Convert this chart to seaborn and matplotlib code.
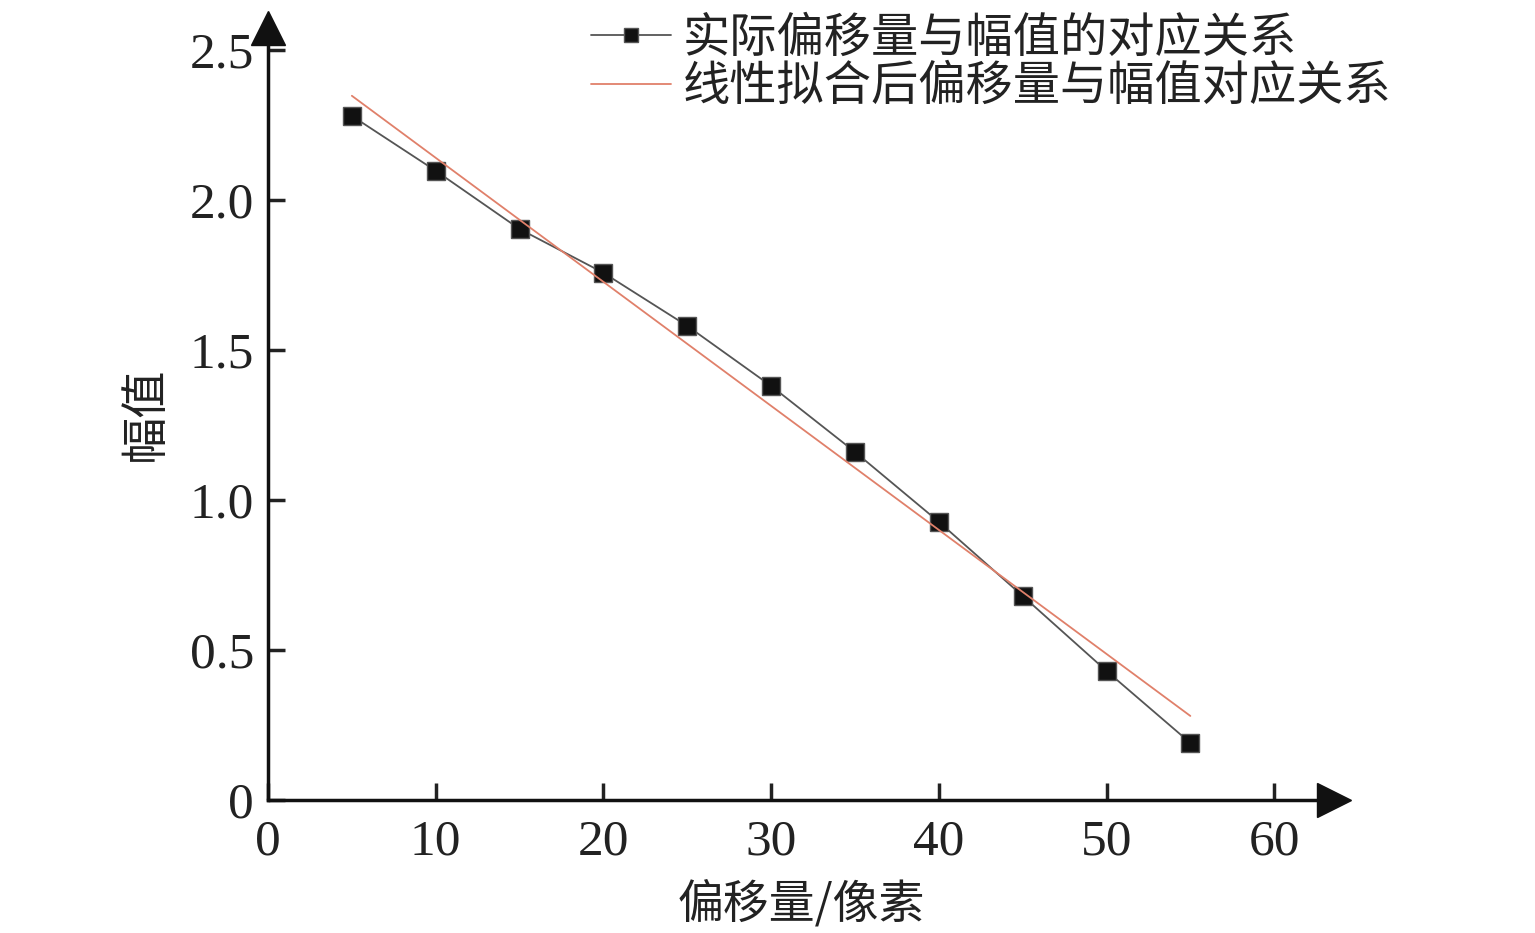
import numpy as np
import seaborn as sns
import matplotlib.pyplot as plt

#Data
offset = [5, 10, 15, 20, 25, 30, 35, 40, 45, 50, 55]
amplitude = [2.28, 2.097, 1.903, 1.757, 1.58, 1.38, 1.16, 0.927, 0.68, 0.43, 0.19]
fit_x = [5, 55]
fit_y = [2.347, 0.28]
x_ticks = [0, 10, 20, 30, 40, 50, 60]
y_ticks = [0, 0.5, 1.0, 1.5, 2.0, 2.5]
y_tick_labels = ['0', '0.5', '1.0', '1.5', '2.0', '2.5']
label_real = '实际偏移量与幅值的对应关系'
label_fit = '线性拟合后偏移量与幅值对应关系'

sns.set_style('ticks')
plt.rcParams['font.family'] = ['Liberation Serif', 'Noto Sans CJK SC', 'DejaVu Sans']
cjk = ['Noto Sans CJK SC', 'DejaVu Sans']

fig = plt.figure(figsize=(15.35, 9.33), dpi=100)
ax = fig.add_axes([0.1746, 0.1426, 0.6945, 0.8274])

sns.lineplot(x=offset, y=amplitude, ax=ax, color='#555555', linewidth=1.3,
             marker='s', markersize=13, markerfacecolor='#111111',
             markeredgecolor='#555555', markeredgewidth=1, label=label_real)
sns.lineplot(x=fit_x, y=fit_y, ax=ax, color='#e0806a', linewidth=1.3, label=label_fit)

ax.set_xlim(0, 63.57)
ax.set_ylim(0, 2.573)
ax.set_xticks(x_ticks)
ax.set_xticklabels([str(t) for t in x_ticks])
ax.set_yticks(y_ticks)
ax.set_yticklabels(y_tick_labels)
ax.tick_params(direction='in', length=12, width=2.5, labelsize=37, colors='#222222')
ax.tick_params(axis='x', pad=14)
ax.tick_params(axis='y', pad=10)

ax.spines['top'].set_visible(False)
ax.spines['right'].set_visible(False)
ax.spines['left'].set_linewidth(2.5)
ax.spines['bottom'].set_linewidth(2.5)
ax.spines['left'].set_color('#111111')
ax.spines['bottom'].set_color('#111111')

#arrows at the axis ends
ax.plot(1, 0, '>', color='#111111', markersize=24, transform=ax.transAxes, clip_on=False)
ax.plot(0, 1, '^', color='#111111', markersize=24, transform=ax.transAxes, clip_on=False)

ax.set_xlabel('偏移量/像素', fontsize=33, family=cjk, labelpad=10, color='#222222')
ax.set_ylabel('幅值', fontsize=34, family=cjk, labelpad=14, color='#222222')

leg = ax.legend(loc='upper left', bbox_to_anchor=(565 / 1535, 1.0125), bbox_transform=fig.transFigure,
                frameon=False, prop={'family': cjk, 'size': 34}, handlelength=1.7,
                handletextpad=0.25, labelspacing=0.0, borderpad=0.05)
for h in leg.legend_handles:
    h.set_markersize(10)
for t in leg.get_texts():
    t.set_color('#222222')

fig.savefig('out.png', dpi=100)
